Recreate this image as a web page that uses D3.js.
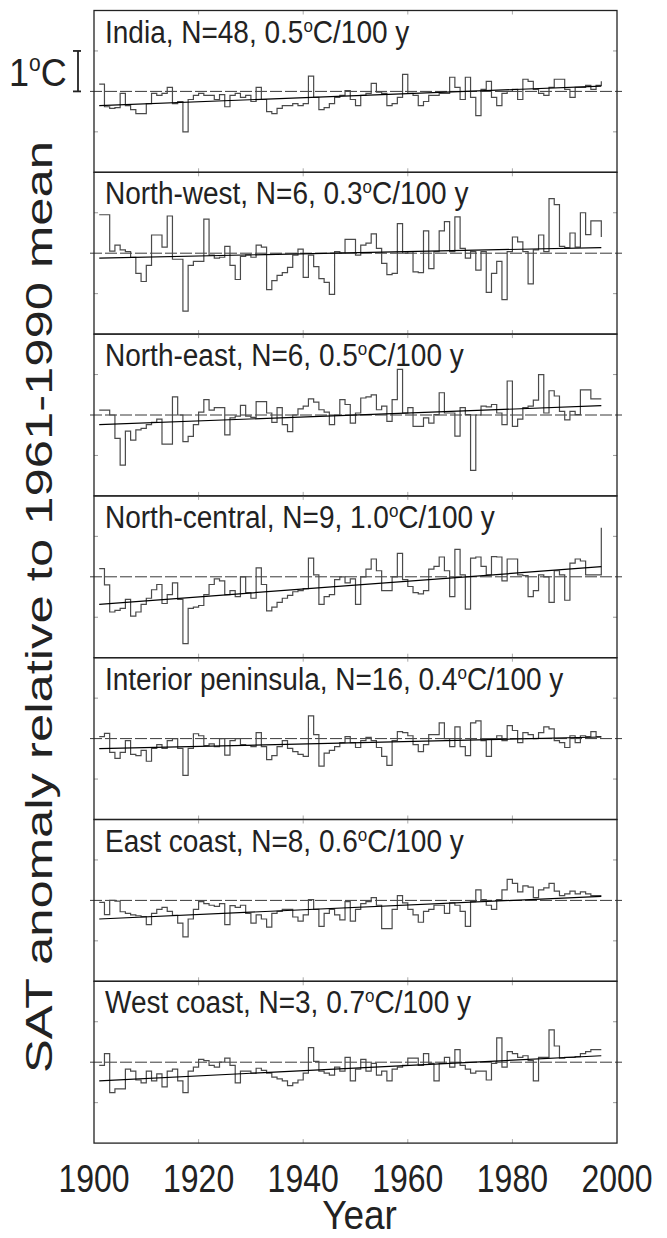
<!DOCTYPE html>
<html>
<head>
<meta charset="utf-8">
<script src="https://cdn.jsdelivr.net/npm/d3@7"></script>
<style>
  body { margin: 0; background: #fff; }
  svg { display: block; }
  text { font-family: "Liberation Sans", Arial, Helvetica, sans-serif; fill: #222; }
</style>
</head>
<body>
<svg id="chart" width="667" height="1238"></svg>
<script>
// years of the annual series
const years = d3.range(1901, 1998);

// panel titles
const regions = ["India", "North-west", "North-east", "North-central", "Interior peninsula", "East coast", "West coast"];
const stations = [48, 6, 6, 9, 16, 8, 3];
const rates = ["0.5", "0.3", "0.5", "1.0", "0.4", "0.6", "0.7"];

// trend line end values (1901, 1997)
const trendStart = [-0.35, -0.12, -0.24, -0.68, -0.25, -0.46, -0.46];
const trendEnd = [0.13, 0.14, 0.23, 0.25, 0.04, 0.10, 0.16];

// annual anomalies, 1901-1997
const india = [0.18, -0.38, -0.42, -0.40, -0.05, -0.35, -0.45, -0.55, -0.55, -0.30,
  -0.05, -0.10, -0.05, 0.10, -0.30, -0.25, -1.00, -0.20, -0.10, -0.05,
  -0.10, -0.10, -0.20, -0.08, -0.38, -0.10, -0.05, -0.15, -0.10, -0.25,
  0.10, -0.20, -0.50, -0.55, -0.42, -0.35, -0.35, -0.30, -0.35, -0.30,
  0.38, -0.15, -0.45, -0.40, -0.30, -0.15, -0.10, 0.02, -0.20, -0.35,
  -0.10, -0.05, 0.20, -0.02, -0.05, -0.35, -0.30, -0.15, 0.42, -0.05,
  -0.10, -0.35, -0.25, -0.10, -0.10, -0.05, -0.05, 0.35, 0.10, -0.20,
  0.35, -0.15, -0.60, 0.05, 0.25, -0.15, -0.35, -0.05, 0.00, 0.05,
  -0.20, 0.30, 0.25, 0.05, -0.05, -0.10, 0.10, 0.30, 0.30, 0.05,
  -0.15, 0.10, 0.10, 0.15, 0.05, 0.15, 0.25];
const northWest = [0.95, 0.95, 0.05, 0.20, 0.08, 0.04, -0.10, -0.50, -0.70, -0.30,
  0.45, 0.45, 0.15, 0.92, -0.15, -0.15, -1.43, -0.30, -0.20, -0.20,
  0.84, -0.05, -0.12, -0.10, 0.17, -0.30, -0.65, -0.08, -0.04, -0.10,
  0.20, 0.15, -0.90, -0.68, -0.55, -0.48, -0.35, -0.05, 0.10, -0.60,
  -0.05, -0.33, -0.63, -0.72, -1.02, 0.04, 0.00, 0.34, 0.34, -0.05,
  0.20, 0.25, 0.48, 0.12, -0.25, -0.53, -0.50, 0.73, 0.00, 0.04,
  -0.46, -0.48, 0.55, -0.38, 0.04, 0.55, 0.78, 0.04, 0.90, 0.12,
  -0.12, 0.04, -0.42, 0.04, -0.97, -0.50, -0.20, -1.15, 0.04, 0.40,
  0.28, 0.04, -0.76, 0.08, 0.45, 0.04, 1.35, 1.20, 0.17, 0.14,
  0.50, 0.15, 1.00, 0.46, 0.80, 0.80, 0.40];
const northEast = [0.12, 0.12, 0.00, -0.58, -1.24, -0.40, -0.62, -0.37, -0.33, -0.24,
  -0.18, -0.10, -0.72, -0.72, 0.45, 0.00, -0.66, -0.53, -0.24, 0.07,
  0.38, 0.12, 0.18, 0.18, -0.49, -0.07, -0.03, 0.24, -0.03, -0.06,
  0.33, 0.33, 0.05, -0.18, 0.18, -0.24, -0.41, 0.00, 0.15, 0.22,
  0.40, 0.32, 0.13, 0.07, -0.24, 0.00, 0.38, 0.26, -0.20, 0.05,
  0.42, 0.45, 0.50, 0.13, 0.22, -0.16, 0.38, 1.13, 0.05, 0.18,
  -0.28, -0.28, -0.07, -0.20, 0.01, 0.55, 0.05, 0.05, -0.52, 0.18,
  0.01, -1.37, 0.00, 0.22, 0.20, 0.26, 0.05, -0.24, 0.84, -0.28,
  -0.10, 0.18, 0.22, 0.37, 1.00, 0.05, 0.60, 0.47, 0.09, -0.12,
  0.09, 0.01, 0.62, 0.62, 0.40, 0.40, 0.40];
const northCentral = [0.20, -0.20, -0.87, -0.83, -0.78, -0.56, -0.97, -0.87, -0.68, -0.53,
  -0.32, -0.19, -0.66, -0.44, -0.15, -0.56, -1.65, -0.78, -0.75, -0.71,
  -0.44, -0.19, -0.05, -0.10, -0.44, -0.34, -0.49, 0.00, -0.39, -0.53,
  0.22, -0.19, -0.84, -0.75, -0.63, -0.53, -0.46, -0.37, -0.34, -0.29,
  0.46, 0.05, -0.68, -0.49, -0.44, -0.07, 0.00, -0.15, -0.05, -0.68,
  0.00, 0.19, 0.44, 0.15, -0.34, -0.34, 0.00, 0.58, -0.07, -0.24,
  -0.39, -0.42, -0.34, 0.19, 0.26, 0.49, 0.15, -0.49, 0.68, 0.05,
  -0.80, 0.46, 0.49, 0.26, 0.05, 0.50, 0.49, -0.10, 0.44, 0.44,
  0.05, 0.03, -0.49, -0.34, 0.05, 0.00, -0.63, 0.15, 0.05, -0.58,
  0.34, 0.44, 0.39, 0.05, 0.05, 0.05, 1.21];
const interiorPeninsula = [0.05, 0.13, -0.34, -0.49, -0.34, -0.05, -0.39, -0.42, -0.29, -0.56,
  -0.24, -0.15, -0.24, -0.05, 0.00, -0.24, -0.91, -0.24, 0.12, 0.07,
  -0.17, -0.13, -0.20, 0.00, -0.41, -0.05, 0.00, -0.15, -0.17, -0.20,
  0.15, -0.20, -0.52, -0.42, -0.20, -0.05, -0.24, -0.32, -0.39, -0.44,
  0.56, 0.10, -0.68, -0.36, -0.29, -0.20, -0.10, 0.05, -0.10, -0.22,
  -0.05, 0.03, -0.05, -0.22, -0.44, -0.66, -0.05, 0.17, 0.15, 0.07,
  -0.15, -0.32, -0.15, 0.10, 0.10, 0.39, 0.00, -0.20, 0.29, -0.20,
  -0.42, 0.39, 0.44, -0.05, -0.44, 0.00, 0.07, -0.05, 0.32, 0.20,
  -0.10, 0.15, 0.10, 0.00, 0.15, 0.29, 0.24, -0.05, -0.10, -0.22,
  0.07, -0.10, 0.07, 0.05, 0.17, 0.05, 0.05];
const eastCoast = [-0.05, -0.35, 0.00, -0.02, -0.28, -0.32, -0.36, -0.38, -0.40, -0.60,
  -0.32, -0.22, -0.17, -0.27, -0.37, -0.56, -0.90, -0.46, -0.22, -0.03,
  -0.08, -0.12, -0.15, -0.08, -0.60, -0.13, -0.17, -0.12, -0.32, -0.56,
  -0.36, -0.46, -0.66, -0.32, -0.27, -0.22, -0.22, -0.41, -0.51, -0.36,
  0.02, -0.22, -0.64, -0.32, -0.22, -0.36, -0.48, -0.03, -0.51, -0.22,
  -0.08, -0.03, 0.07, -0.12, -0.70, -0.70, -0.22, 0.12, -0.06, -0.22,
  -0.36, -0.54, -0.27, -0.22, -0.12, -0.12, -0.32, -0.06, -0.12, -0.27,
  -0.64, -0.03, 0.26, 0.02, -0.12, -0.22, 0.02, 0.26, 0.52, 0.42,
  0.21, 0.36, 0.33, 0.07, 0.26, 0.31, 0.42, 0.23, 0.12, 0.16,
  0.23, 0.16, 0.21, 0.16, 0.12, 0.12, 0.12];
const westCoast = [-0.08, 0.21, -0.75, -0.66, -0.66, -0.17, -0.22, -0.44, -0.51, -0.22,
  -0.46, -0.29, -0.61, -0.22, -0.17, -0.46, -0.75, -0.22, -0.12, 0.07,
  0.04, -0.08, -0.12, 0.00, 0.10, -0.08, -0.51, -0.22, -0.22, -0.27,
  -0.15, -0.20, -0.27, -0.37, -0.41, -0.46, -0.58, -0.51, -0.44, -0.27,
  0.36, 0.02, -0.22, -0.27, -0.32, -0.12, -0.22, 0.12, -0.46, -0.17,
  0.07, -0.22, -0.03, -0.32, -0.22, -0.46, -0.17, -0.12, -0.08, 0.10,
  0.10, -0.08, 0.21, -0.03, -0.46, -0.03, 0.12, -0.12, 0.31, -0.08,
  -0.17, -0.27, -0.22, -0.22, -0.44, -0.03, 0.60, -0.12, 0.26, 0.21,
  0.12, 0.16, 0.04, -0.46, 0.12, 0.12, 0.80, 0.40, 0.10, 0.12,
  0.12, 0.14, 0.21, 0.26, 0.31, 0.31, 0.31];

const series = [india, northWest, northEast, northCentral, interiorPeninsula, eastCoast, westCoast];

const xTicks = [1900, 1920, 1940, 1960, 1980, 2000];
const yTicks = [-1, 1];

// layout
const plotLeft = 94, plotRight = 617, plotTop = 10.5, panelH = 161.8;

const svg = d3.select("#chart");

const x = d3.scaleLinear().domain([1900, 2000]).range([plotLeft, plotRight]);
const y = d3.scaleLinear().domain([-2, 2]).range([panelH, 0]);

const stepLine = d3.line()
    .x(d => x(d[0]))
    .y(d => y(d[1]))
    .curve(d3.curveStepAfter);

series.forEach(function (vals, i) {
    const g = svg.append("g")
        .attr("transform", "translate(0," + (plotTop + i * panelH) + ")");

    // small grey ticks inside the frame
    const inner = xTicks.slice(1, -1);
    g.selectAll(".xt-top").data(inner).enter().append("line")
        .attr("x1", d => x(d)).attr("x2", d => x(d))
        .attr("y1", 0).attr("y2", 4)
        .attr("stroke", "#aaa").attr("stroke-width", 1);
    g.selectAll(".xt-bot").data(inner).enter().append("line")
        .attr("x1", d => x(d)).attr("x2", d => x(d))
        .attr("y1", panelH - 4).attr("y2", panelH)
        .attr("stroke", "#aaa").attr("stroke-width", 1);
    g.selectAll(".yt-left").data(yTicks).enter().append("line")
        .attr("x1", plotLeft).attr("x2", plotLeft + 4)
        .attr("y1", d => y(d)).attr("y2", d => y(d))
        .attr("stroke", "#999").attr("stroke-width", 1);
    g.selectAll(".yt-right").data(yTicks).enter().append("line")
        .attr("x1", plotRight - 4).attr("x2", plotRight)
        .attr("y1", d => y(d)).attr("y2", d => y(d))
        .attr("stroke", "#999").attr("stroke-width", 1);

    // zero line
    g.append("line")
        .attr("x1", plotLeft - 4).attr("x2", plotRight + 5)
        .attr("y1", y(0)).attr("y2", y(0))
        .attr("stroke", "#222").attr("stroke-width", 0.9)
        .attr("stroke-dasharray", "12,3");

    // annual steps
    g.append("path")
        .datum(years.map((yr, k) => [yr, vals[k]]))
        .attr("d", stepLine)
        .attr("fill", "none")
        .attr("stroke", "#4a4a4a")
        .attr("stroke-width", 1.2);

    // trend
    g.append("line")
        .attr("x1", x(1901)).attr("x2", x(1997))
        .attr("y1", y(trendStart[i])).attr("y2", y(trendEnd[i]))
        .attr("stroke", "#000").attr("stroke-width", 1.2);

    // frame
    g.append("rect")
        .attr("x", plotLeft).attr("y", 0)
        .attr("width", plotRight - plotLeft).attr("height", panelH)
        .attr("fill", "none").attr("stroke", "#222").attr("stroke-width", 1.3);

    // title
    const t = g.append("text")
        .attr("transform", "translate(" + (plotLeft + 11) + ",32) scale(1,1.1)")
        .style("font-size", "28px");
    t.append("tspan").text(regions[i] + ", N=" + stations[i] + ", " + rates[i]);
    t.append("tspan").attr("dy", -10).style("font-size", "17px").text("o");
    t.append("tspan").attr("dy", 10).text("C/100 y");
});

// x tick labels
svg.selectAll(".xlab").data(xTicks).enter().append("text")
    .attr("transform", d => "translate(" + x(d) + ",1192) scale(1,1.2)")
    .attr("text-anchor", "middle")
    .style("font-size", "32px")
    .text(d => d);

svg.append("text")
    .attr("transform", "translate(" + ((plotLeft + plotRight) / 2 + 4) + ",1229) scale(1,1.1)")
    .attr("text-anchor", "middle")
    .style("font-size", "37px")
    .text("Year");

// y axis title
svg.append("text")
    .attr("transform", "translate(52,607) rotate(-90) scale(1.41,1)")
    .attr("text-anchor", "middle")
    .style("font-size", "36px")
    .text("SAT anomaly relative to 1961-1990 mean");

// 1 degree scale bar next to the top panel
const bar = svg.append("g").attr("transform", "translate(0," + plotTop + ")");
const barX = 78;
bar.append("line").attr("x1", barX).attr("x2", barX)
    .attr("y1", y(1)).attr("y2", y(0))
    .attr("stroke", "#222").attr("stroke-width", 1.8);
[1, 0].forEach(function (v) {
    bar.append("line").attr("x1", barX - 5).attr("x2", barX + 3)
        .attr("y1", y(v)).attr("y2", y(v))
        .attr("stroke", "#222").attr("stroke-width", 1.8);
});
const lab = bar.append("text")
    .attr("transform", "translate(9," + (y(0) - 5) + ") scale(1,1.1)")
    .style("font-size", "36px");
lab.append("tspan").text("1");
lab.append("tspan").attr("dy", -14).style("font-size", "21px").text("o");
lab.append("tspan").attr("dy", 14).text("C");
</script>
</body>
</html>
